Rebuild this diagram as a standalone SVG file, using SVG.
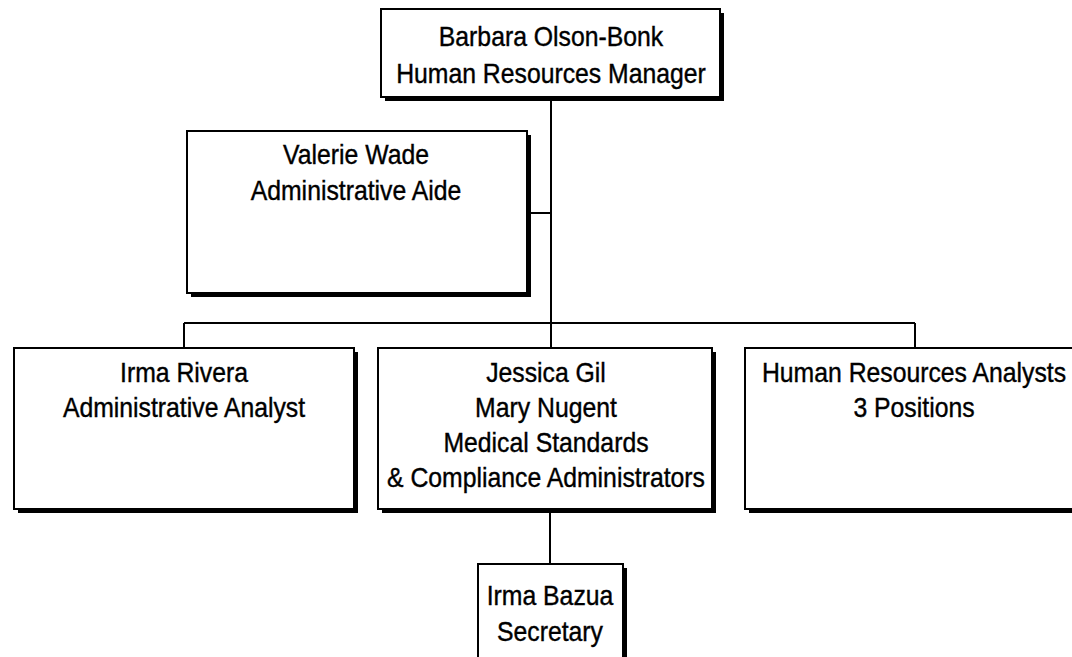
<svg xmlns="http://www.w3.org/2000/svg" width="1072" height="657" viewBox="0 0 1072 657">
<style>
.shadow{fill:#000}
.box{fill:#fff;stroke:#000;stroke-width:2}
.lbl{font-family:"Liberation Sans",Arial,sans-serif;font-size:28px;fill:#000;stroke:#000;stroke-width:0.4;text-anchor:middle}
.conn{stroke:#000;stroke-width:2;fill:none}
</style>
<rect width="1072" height="657" fill="#fff"/>
<g id="connectors">
<path class="conn" d="M551,97 V348"/>
<path class="conn" d="M527,213 H551"/>
<path class="conn" d="M184,323 H915"/>
<path class="conn" d="M184,323 V348"/>
<path class="conn" d="M915,323 V348"/>
<path class="conn" d="M550,510 V564"/>
</g>
<g id="barbara">
<rect class="shadow" x="385" y="13" width="339" height="88"/>
<rect class="box" x="381" y="9" width="339" height="88"/>
<text class="lbl" transform="translate(551,46) scale(0.885,1)">Barbara Olson-Bonk</text>
<text class="lbl" transform="translate(551,83) scale(0.885,1)">Human Resources Manager</text>
</g>
<g id="valerie">
<rect class="shadow" x="191" y="135" width="340" height="162"/>
<rect class="box" x="187" y="131" width="340" height="162"/>
<text class="lbl" transform="translate(356,164) scale(0.885,1)">Valerie Wade</text>
<text class="lbl" transform="translate(356,200) scale(0.885,1)">Administrative Aide</text>
</g>
<g id="irma-rivera">
<rect class="shadow" x="18" y="352" width="340" height="161"/>
<rect class="box" x="14" y="348" width="340" height="161"/>
<text class="lbl" transform="translate(184,382) scale(0.885,1)">Irma Rivera</text>
<text class="lbl" transform="translate(184,417) scale(0.885,1)">Administrative Analyst</text>
</g>
<g id="jessica">
<rect class="shadow" x="382" y="352" width="334" height="161"/>
<rect class="box" x="378" y="348" width="334" height="161"/>
<text class="lbl" transform="translate(546,382) scale(0.885,1)">Jessica Gil</text>
<text class="lbl" transform="translate(546,417) scale(0.885,1)">Mary Nugent</text>
<text class="lbl" transform="translate(546,452) scale(0.885,1)">Medical Standards</text>
<text class="lbl" transform="translate(546,487) scale(0.885,1)">&amp; Compliance Administrators</text>
</g>
<g id="hr-analysts">
<rect class="shadow" x="749" y="352" width="340" height="161"/>
<rect class="box" x="745" y="348" width="340" height="161"/>
<text class="lbl" transform="translate(914,382) scale(0.885,1)">Human Resources Analysts</text>
<text class="lbl" transform="translate(914,417) scale(0.885,1)">3 Positions</text>
</g>
<g id="irma-bazua">
<rect class="shadow" x="482" y="568" width="145" height="100"/>
<rect class="box" x="478" y="564" width="145" height="100"/>
<text class="lbl" transform="translate(550,605) scale(0.885,1)">Irma Bazua</text>
<text class="lbl" transform="translate(550,641) scale(0.885,1)">Secretary</text>
</g>
</svg>
